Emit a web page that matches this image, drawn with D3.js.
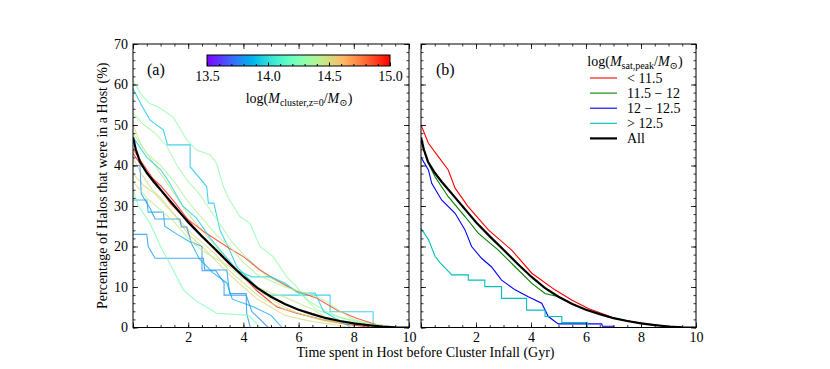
<!DOCTYPE html>
<html><head><meta charset="utf-8">
<script src="https://cdn.jsdelivr.net/npm/d3@7"></script>
<style>
body{margin:0;background:#fff}
svg{display:block}
text{font-family:"Liberation Serif","DejaVu Serif",serif;fill:#000}
</style>
</head><body>
<script>
// ---------------- DATA ----------------
const xTickLabels = [2, 4, 6, 8, 10];
const yTickLabels = [0, 10, 20, 30, 40, 50, 60, 70];
const colorbarTicks = [13.5, 14.0, 14.5, 15.0];
const legendLabels = ["< 11.5", "11.5 \u2212 12", "12 \u2212 12.5", "> 12.5", "All"];
const legendColors = ["#ff0000", "#008000", "#0000ff", "#00bfbf", "#000000"];

// panel (a): log cluster mass of each curve
const clusterMass = [14.3, 13.92, 14.35, 14.48, 14.9, 14.97, 14.5, 14.5, 13.78, 13.8, 14.25, 13.85, 14.45, 13.95, 14.4];
// panel (a): [time (Gyr), percentage] for each curve
const clusterCurves = [
 [[0,61],[0.3,57.5],[0.6,55.3],[0.9,54.5],[1.45,52],[1.95,46.3],[2.3,43.8],[2.8,42.6],[3.03,40.5],[3.27,34.8],[3.5,31.5],[3.87,27.4],[4.24,25.7],[4.6,20],[5.08,17.5],[5.57,12.5],[5.93,10.1],[6.3,6.8],[6.66,4.3],[7.38,2.7],[8.1,1.6],[9.07,0.5],[9.7,0]],
 [[0,59],[0.3,55],[0.62,51.2],[1.1,48.8],[1.25,45.1],[2.07,45.1],[2.07,39.7],[2.67,34.8],[2.73,30.7],[2.93,30.7],[3.15,24.1],[3.5,19.1],[3.76,15],[4.24,11.7],[4.72,8.4],[4.9,8.0],[7.14,8.0],[7.14,3.9],[8.7,3.9],[8.7,0]],
 [[0,53],[0.4,50],[0.8,48],[1.2,45],[1.6,40],[2.0,36],[2.4,33],[2.8,29],[3.2,25],[3.6,21],[4.0,18],[4.4,15.5],[4.8,13],[5.2,11.5],[5.6,10],[6.0,8.5],[6.5,6],[7.0,4],[7.5,2.5],[8.0,1.5],[8.6,0.8],[9.2,0]],
 [[0,50],[0.3,45],[0.7,41],[1.0,38],[1.5,33],[2.0,28],[2.5,24],[3.0,20],[3.5,16],[4.0,12.5],[4.5,9.5],[5.0,7],[5.5,5],[6.0,3.5],[6.5,2.5],[7.0,1.5],[7.5,1],[8.2,0.5],[8.8,0]],
 [[0,44],[0.4,40],[0.8,36],[1.34,30.7],[1.8,27.5],[2.18,25.7],[2.6,23.5],[3.03,21.6],[3.5,19.5],[4.0,17.5],[4.6,14.2],[5.2,11.7],[5.6,10.2],[5.93,9],[6.66,7.2],[7.38,4.3],[8.1,2.3],[8.83,0.7],[9.1,0]],
 [[0,43],[0.3,40],[0.6,37.5],[1.0,35],[1.5,31],[2.0,26.5],[2.5,22.5],[3.0,19],[3.5,15.5],[4.0,12.5],[4.5,9],[5.2,5.1],[5.93,3.5],[6.9,1.9],[7.86,0.7],[8.46,0.2],[8.8,0]],
 [[0,42],[0.3,38],[0.7,34],[1.0,32],[1.5,28],[2.0,24],[2.5,21],[3.0,18],[3.5,14],[4.0,11],[4.5,8],[5.0,6],[5.5,4.5],[6.0,3.5],[6.5,2.5],[7,1.8],[7.5,1.2],[8,0.8],[8.6,0.3],[9,0]],
 [[0,38],[0.4,35],[0.8,33],[1.2,30],[1.6,27],[2.0,23],[2.5,20],[3.0,16.5],[3.5,13],[4.0,10],[4.5,7],[5.0,5],[5.5,3],[6.0,2.2],[6.5,1.5],[7.2,0.8],[7.8,0]],
 [[0,40],[0.25,40],[0.3,33],[0.62,29.4],[0.8,26.8],[1.7,26.8],[1.75,24.8],[1.95,24.8],[2.1,21.2],[2.5,20],[2.5,14],[3.0,14],[3.3,11],[3.3,8],[4.1,8],[4.3,4],[4.9,0]],
 [[0,23],[0.5,23],[0.55,20],[0.8,17.1],[2.55,17.1],[2.6,14.2],[3.4,14.2],[3.5,8.4],[4.1,8.4],[4.12,3.5],[4.25,0]],
 [[0,34],[0.2,30],[0.62,25.7],[1.0,20],[1.4,15],[1.82,9.3],[2.3,6.5],[2.8,4.5],[3.03,3.5],[4.2,3],[4.6,0]],
 [[0,31.5],[0.5,31.5],[0.55,28.5],[1.1,28.5],[1.15,25],[1.6,23],[2.1,21],[2.4,17],[2.9,13.5],[3.4,11],[3.6,7],[4.4,5],[5.0,3],[5.4,0]],
 [[0,36],[0.5,32],[1.0,29],[1.5,26],[2.0,22],[2.5,19],[3.0,17],[3.5,15],[4.0,12],[4.5,10],[5.0,8.5],[5.5,7.5],[6.0,6],[6.5,4.5],[7.0,2.5],[7.6,1.5],[8.2,0.8],[8.8,0]],
 [[0,47],[0.5,42],[1.0,39],[1.3,36],[1.8,30],[2.3,27],[2.8,22],[3.3,18],[3.8,14],[4.3,12.5],[5.0,12.5],[5.5,11],[6.0,8.5],[6.6,8.5],[6.9,4],[7.4,2],[7.9,0]],
 [[0,48],[0.5,43],[1.0,40],[1.5,36],[2.0,31],[2.5,27],[3.0,23],[3.5,20],[4.0,16],[4.5,13],[5.0,11.5],[5.5,10],[6.0,9],[6.5,8],[7.0,6.5],[7.5,4],[8.0,2],[8.5,1],[9.2,0.4],[9.6,0]]
];

// all halos (both panels)
const allHalos = [[0,47],[0.1,44],[0.25,41],[0.5,38.2],[0.75,36],[1,34],[1.25,32],[1.5,30],[1.75,28],[2,26],[2.5,22.5],[3,19.2],[3.5,15.8],[4,12.6],[4.5,9.8],[5,7.6],[5.5,5.8],[6,4.4],[6.5,3.3],[7,2.3],[7.5,1.6],[8,1.0],[8.5,0.6],[9,0.25],[9.5,0.05],[10,0]];
// panel (b): satellite peak-mass bins
const satBelow115 = [[0,50],[0.27,45.5],[0.63,42.2],[0.99,38.9],[1.24,34.4],[1.72,29.8],[2.45,24.1],[3.3,19.1],[4.03,13.4],[4.87,9.3],[5.48,6.8],[6.08,4.7],[7.05,2.3],[8,1.0],[8.5,0.6],[9,0.25],[9.5,0.05],[10,0]];
const sat115to12 = [[0,46],[0.27,40.5],[0.51,37.2],[0.99,32.3],[1.6,27.4],[2.08,23.3],[2.81,19.1],[3.42,15.0],[4.03,10.9],[4.51,8.4],[5,7.6],[5.5,5.8],[6,4.4],[6.5,3.3],[7,2.3],[7.5,1.6],[8,1.1],[8.5,0.6],[9,0.25],[9.5,0.05],[10,0]];
const sat12to125 = [[0,42],[0.27,38.9],[0.39,35.6],[0.75,31.5],[1.24,28.2],[1.6,24.1],[1.84,20.0],[2.2,17.1],[2.56,15.0],[2.93,11.7],[3.42,9.3],[3.9,7.6],[4.39,6.0],[4.63,2.7],[4.99,0.9],[6.57,0.9],[6.6,0.3],[7.0,0.3],[7.0,0]];
const satAbove125 = [[0,24.5],[0.27,21.7],[0.51,17.6],[0.69,16],[1.12,13],[1.72,13],[1.72,11.7],[2.32,11.7],[2.32,10.1],[2.93,10.1],[2.93,7.2],[3.84,7.2],[3.84,4.3],[4.51,4.3],[4.51,2.7],[5.12,2.7],[5.12,1.2],[6.05,1.2],[6.05,0]];
const satSeries = [satBelow115, sat115to12, sat12to125, satAbove125, allHalos];

// ---------------- DRAW ----------------
const W = 830, H = 369;
const svg = d3.select("body").append("svg").attr("width", W).attr("height", H);
const y = d3.scaleLinear().domain([0, 70]).range([327.5, 44]);
const xa = d3.scaleLinear().domain([0, 10]).range([133, 409]);
const xb = d3.scaleLinear().domain([0, 10]).range([421, 696]);
const FS = 14;
const FF = '"Liberation Serif",serif';

function rainbow(t) {
  t = Math.max(0, Math.min(1, t));
  const r = Math.min(1, Math.abs(2 * t - 0.5));
  const g = Math.sin(Math.PI * t);
  const b = Math.cos(Math.PI * t / 2);
  return d3.rgb(r * 255, g * 255, b * 255).formatHex();
}
const massColor = m => rainbow((m - 13.5) / 1.5);

function frame(x, id) {
  const [x0, x1] = x.range();
  svg.append("clipPath").attr("id", id).append("rect")
    .attr("x", x0).attr("y", y(70)).attr("width", x1 - x0).attr("height", y(0) - y(70));
  const g = svg.append("g");
  const mk = (axis, tr) => {
    const a = g.append("g").attr("transform", tr).call(axis);
    a.select(".domain").remove();
    a.selectAll("line").attr("stroke", "#000").attr("stroke-width", 0.8);
    a.selectAll("text").style("font-family", FF).style("font-size", FS + "px");
    return a;
  };
  const xMinor = d3.range(0, 10.01, 0.5);
  const yMinor = d3.range(0, 70.01, 2);
  mk(d3.axisBottom(x).tickValues(xMinor).tickSize(-2.5).tickFormat(""), `translate(0,${y(0)})`);
  mk(d3.axisTop(x).tickValues(xMinor).tickSize(-2.5).tickFormat(""), `translate(0,${y(70)})`);
  mk(d3.axisBottom(x).tickValues([0, ...xTickLabels]).tickSize(-5).tickPadding(5)
      .tickFormat(d => d === 0 ? "" : d), `translate(0,${y(0)})`);
  mk(d3.axisTop(x).tickValues([0, ...xTickLabels]).tickSize(-5).tickFormat(""), `translate(0,${y(70)})`);
  mk(d3.axisLeft(y).tickValues(yMinor).tickSize(-2.5).tickFormat(""), `translate(${x0},0)`);
  mk(d3.axisRight(y).tickValues(yMinor).tickSize(-2.5).tickFormat(""), `translate(${x1},0)`);
  mk(d3.axisLeft(y).tickValues(yTickLabels).tickSize(-5).tickPadding(5)
      .tickFormat(d => id === "ca" ? d : ""), `translate(${x0},0)`);
  mk(d3.axisRight(y).tickValues(yTickLabels).tickSize(-5).tickFormat(""), `translate(${x1},0)`);
  g.append("rect").attr("x", x0).attr("y", y(70)).attr("width", x1 - x0).attr("height", y(0) - y(70))
    .attr("fill", "none").attr("stroke", "#000").attr("stroke-width", 1);
}

// panel a curves
const la = d3.line().x(d => xa(d[0])).y(d => y(d[1]));
const ga = svg.append("g").attr("clip-path", "url(#ca)");
clusterCurves.forEach((c, i) => {
  ga.append("path").attr("d", la(c)).attr("fill", "none")
    .attr("stroke", massColor(clusterMass[i])).attr("stroke-width", 1.1).attr("stroke-opacity", 0.78);
});
ga.append("path").attr("d", la(allHalos)).attr("fill", "none").attr("stroke", "#000").attr("stroke-width", 2.2);

// panel b curves
const lb = d3.line().x(d => xb(d[0])).y(d => y(d[1]));
const gb = svg.append("g").attr("clip-path", "url(#cb)");
satSeries.forEach((s, i) => {
  gb.append("path").attr("d", lb(s)).attr("fill", "none")
    .attr("stroke", legendColors[i]).attr("stroke-width", i === 4 ? 2.2 : 1.1);
});

frame(xa, "ca");
frame(xb, "cb");

// panel labels
svg.append("text").attr("x", 147).attr("y", 75).style("font-size", "16px").text("(a)");
svg.append("text").attr("x", 436).attr("y", 75).style("font-size", "16px").text("(b)");

// axis labels
svg.append("text").attr("transform", `translate(107,${(y(0) + y(70)) / 2}) rotate(-90)`)
  .attr("text-anchor", "middle").style("font-size", FS + "px")
  .text("Percentage of Halos that were in a Host (%)");
svg.append("text").attr("x", (xa(0) + xb(10)) / 2 + 11).attr("y", 357).attr("text-anchor", "middle")
  .style("font-size", FS + "px").text("Time spent in Host before Cluster Infall (Gyr)");

// colorbar
const cb = d3.scaleLinear().domain([13.5, 15.0]).range([207, 390]);
const grad = svg.append("defs").append("linearGradient").attr("id", "rb");
d3.range(0, 1.0001, 0.05).forEach(t => grad.append("stop").attr("offset", t).attr("stop-color", rainbow(t)));
svg.append("rect").attr("x", 207).attr("y", 55).attr("width", 183).attr("height", 11)
  .attr("fill", "url(#rb)").attr("stroke", "#000").attr("stroke-width", 1);
const cbA = svg.append("g").attr("transform", "translate(0,66)")
  .call(d3.axisBottom(cb).tickValues(d3.range(13.5, 15.001, 0.1)).tickSize(-2).tickFormat(""));
cbA.select(".domain").remove();
const cbB = svg.append("g").attr("transform", "translate(0,66)")
  .call(d3.axisBottom(cb).tickValues(colorbarTicks).tickSize(-3.5).tickPadding(5).tickFormat(d3.format(".1f")));
cbB.select(".domain").remove();
cbB.selectAll("text").style("font-family", FF).style("font-size", FS + "px");
svg.selectAll("g line").attr("stroke", "#000");

function mathLabel(t, parts) {
  parts.forEach(p => {
    const s = t.append("tspan").text(p.t);
    if (p.i) s.style("font-style", "italic");
    if (p.sub) s.attr("font-size", "10px").attr("dy", p.dy);
    else if (p.dy) s.attr("dy", p.dy);
  });
}
const cbl = svg.append("text").attr("x", 299).attr("y", 103).attr("text-anchor", "middle").style("font-size", FS + "px");
mathLabel(cbl, [{t: "log("}, {t: "M", i: 1}, {t: "cluster,z=0", sub: 1, dy: 3}, {t: "/", dy: -3}, {t: "M", i: 1}, {t: "\u2299", sub: 1, dy: 3}, {t: ")", dy: -3}]);

// legend
const lt = svg.append("text").attr("x", 635).attr("y", 66).attr("text-anchor", "middle").style("font-size", FS + "px");
mathLabel(lt, [{t: "log("}, {t: "M", i: 1}, {t: "sat,peak", sub: 1, dy: 3}, {t: "/", dy: -3}, {t: "M", i: 1}, {t: "\u2299", sub: 1, dy: 3}, {t: ")", dy: -3}]);
legendLabels.forEach((l, i) => {
  const yy = 78 + i * 15.1;
  svg.append("line").attr("x1", 590).attr("x2", 617).attr("y1", yy).attr("y2", yy)
    .attr("stroke", legendColors[i]).attr("stroke-width", i === 4 ? 2.2 : 1.1);
  svg.append("text").attr("x", 627).attr("y", yy + 4.5).style("font-size", FS + "px").text(l);
});
</script>
</body></html>
